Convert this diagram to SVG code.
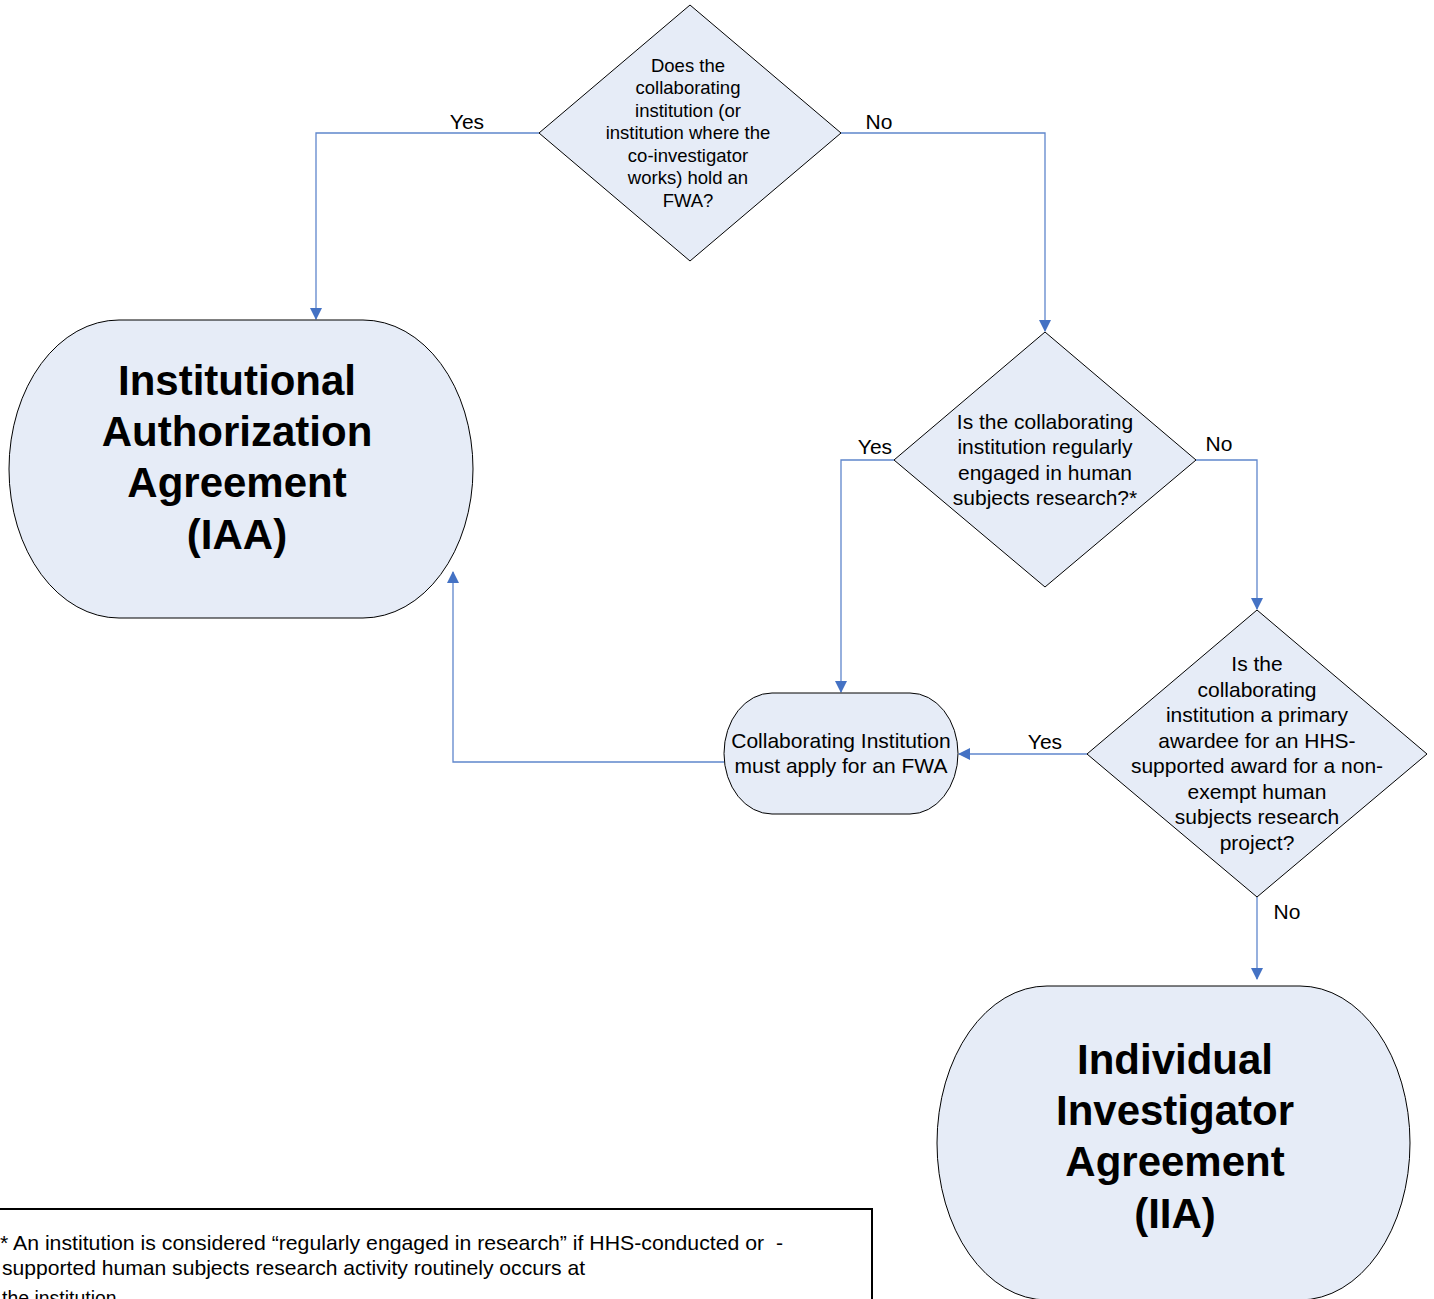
<svg xmlns="http://www.w3.org/2000/svg" width="1434" height="1299" viewBox="0 0 1434 1299">
<defs>
<style>
.shape{fill:#E6ECF7;stroke:#000;stroke-width:1}
.t{font-family:"Liberation Sans",Arial,sans-serif;fill:#000;text-anchor:middle}
.q1{font-size:18.5px}
.q{font-size:21px}
.big{font-size:42px;font-weight:bold}
.lbl{font-family:"Liberation Sans",Arial,sans-serif;font-size:21px;fill:#000;text-anchor:middle}
.c{fill:none;stroke:#5F86CC;stroke-width:1.3}
.note{font-family:"Liberation Sans",Arial,sans-serif;font-size:21px;fill:#000}
</style>
<marker id="ah" markerWidth="12" markerHeight="12" refX="11" refY="6" orient="auto" markerUnits="userSpaceOnUse">
<path d="M0,0 L12,6 L0,12 Z" fill="#4472C4"/>
</marker>
</defs>
<rect width="1434" height="1299" fill="#fff"/>

<g id="connectors">
<path class="c" d="M539,133 H316 V319" marker-end="url(#ah)"/>
<path class="c" d="M841,133 H1045 V331" marker-end="url(#ah)"/>
<path class="c" d="M894,460 H841 V692" marker-end="url(#ah)"/>
<path class="c" d="M1196,460 H1257 V609" marker-end="url(#ah)"/>
<path class="c" d="M1087,754 H959" marker-end="url(#ah)"/>
<path class="c" d="M724,762 H453 V572" marker-end="url(#ah)"/>
<path class="c" d="M1257,897 V979" marker-end="url(#ah)"/>
<text class="lbl" x="467" y="129">Yes</text>
<text class="lbl" x="879" y="129">No</text>
<text class="lbl" x="875" y="454">Yes</text>
<text class="lbl" x="1219" y="451">No</text>
<text class="lbl" x="1045" y="749">Yes</text>
<text class="lbl" x="1287" y="919">No</text>
</g>

<g id="q-fwa">
<polygon class="shape" points="690,5 841,133 690,261 539,133"/>
<text class="t q1"><tspan x="688" y="71.5">Does the</tspan><tspan x="688" y="94">collaborating</tspan><tspan x="688" y="116.5">institution (or</tspan><tspan x="688" y="139">institution where the</tspan><tspan x="688" y="161.5">co-investigator</tspan><tspan x="688" y="184">works) hold an</tspan><tspan x="688" y="206.5">FWA?</tspan></text>
</g>

<g id="iaa">
<rect class="shape" x="9" y="320" width="464" height="298" rx="110" ry="149"/>
<text class="t big"><tspan x="237" y="395">Institutional</tspan><tspan x="237" y="446">Authorization</tspan><tspan x="237" y="497">Agreement</tspan><tspan x="237" y="549">(IAA)</tspan></text>
</g>

<g id="q-regular">
<polygon class="shape" points="1045,332 1196,460 1045,587 894,460"/>
<text class="t q"><tspan x="1045" y="428.5">Is the collaborating</tspan><tspan x="1045" y="454">institution regularly</tspan><tspan x="1045" y="479.5">engaged in human</tspan><tspan x="1045" y="505">subjects research?*</tspan></text>
</g>

<g id="q-awardee">
<polygon class="shape" points="1257,610 1427,754 1257,897 1087,754"/>
<text class="t q"><tspan x="1257" y="671">Is the</tspan><tspan x="1257" y="696.5">collaborating</tspan><tspan x="1257" y="722">institution a primary</tspan><tspan x="1257" y="747.5">awardee for an HHS-</tspan><tspan x="1257" y="773">supported award for a non-</tspan><tspan x="1257" y="798.5">exempt human</tspan><tspan x="1257" y="824">subjects research</tspan><tspan x="1257" y="849.5">project?</tspan></text>
</g>

<g id="apply-fwa">
<rect class="shape" x="724" y="693" width="234" height="121" rx="48" ry="60.5"/>
<text class="t q"><tspan x="841" y="747.5">Collaborating Institution</tspan><tspan x="841" y="773">must apply for an FWA</tspan></text>
</g>

<g id="iia">
<rect class="shape" x="937" y="986" width="473" height="314" rx="110" ry="157"/>
<text class="t big"><tspan x="1175" y="1074">Individual</tspan><tspan x="1175" y="1125">Investigator</tspan><tspan x="1175" y="1176">Agreement</tspan><tspan x="1175" y="1228">(IIA)</tspan></text>
</g>

<g id="footnote">
<rect x="-2" y="1209" width="874" height="120" fill="#fff" stroke="#000" stroke-width="2"/>
<text class="note" x="0" y="1250" textLength="783" lengthAdjust="spacingAndGlyphs">* An institution is considered “regularly engaged in research” if HHS-conducted or&#160; -</text>
<text class="note" x="2" y="1275" textLength="583" lengthAdjust="spacingAndGlyphs">supported human subjects research activity routinely occurs at</text>
<text class="note" x="2" y="1305" textLength="120" lengthAdjust="spacingAndGlyphs">the institution.</text>
</g>
</svg>
